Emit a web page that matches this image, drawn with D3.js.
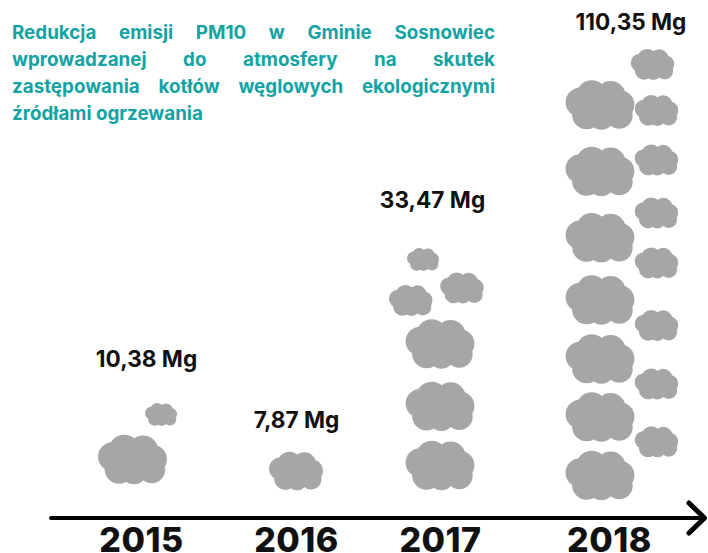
<!DOCTYPE html>
<html lang="pl"><head><meta charset="utf-8">
<script src="https://cdn.jsdelivr.net/npm/d3@7/dist/d3.min.js"></script>
<style>html,body{margin:0;background:#fff}svg{display:block}</style></head>
<body><svg id="c" width="708" height="553"></svg>
<script>
// ---- data ----
const years = ["2015","2016","2017","2018"];
const values = [10.38, 7.87, 33.47, 110.35];
const valueLabels = ["10,38 Mg","7,87 Mg","33,47 Mg","110,35 Mg"];
const cloudTiers = ["big","mid","small","tiny"];
const cloudsByYear = [
  ["big","tiny"],
  ["mid"],
  ["big","big","big","small","small","tiny"],
  ["big","big","big","big","big","big","big","small","small","small","small","small","small","small","small"]
];
const titleLines = [
  "Redukcja emisji PM10 w Gminie Sosnowiec",
  "wprowadzanej do atmosfery na skutek",
  "zastępowania kotłów węglowych ekologicznymi",
  "źródłami ogrzewania"
];

// ---- layout (not data) ----
const W = 708, H = 553;
const axisY = 518;
const svg = d3.select("#c");
const x = d3.scaleOrdinal(years, [141, 296, 440, 609]);
const tierWidth = d3.scaleOrdinal(cloudTiers, [69, 54, 43.6, 32]);
// cloud centres, same order as cloudsByYear
const cloudSpots = [
  [[132.5,459.5],[161,414.5]],
  [[296,471]],
  [[440,465.5],[440,406.3],[440,344],[462,288],[410.7,300.5],[423,259.5]],
  [[600,475.5],[600,417],[600,359],[600,300],[600,237.7],[600,171.5],[600,105],
   [656.5,441.8],[656.5,384],[656.5,325.5],[656.5,263],[656.5,213],[656.5,160],[656.5,110.5],[652.5,64.5]]
];
const labelAnchor = [[146.5,367],[296.5,428],[432.5,207.5],[631,30]];
const lobes = [[-.12,-.129,.228],[.155,-.129,.218],[-.29,-.04,.209],[.29,-.005,.209],
  [-.194,.14,.21],[.02,.163,.194],[.28,.15,.194],[0,0,.27]];

function cloudPath(w){
  const p = d3.path();
  lobes.forEach(([a,b,r])=>{
    p.moveTo(a*w + r*w, b*w);
    p.arc(a*w, b*w, r*w, 0, 2*Math.PI);
  });
  return p.toString();
}

// clouds
const clouds = cloudsByYear.flatMap((list,i)=>list.map((tier,j)=>({tier,pos:cloudSpots[i][j]})));
svg.append("g").selectAll("path").data(clouds).join("path")
  .attr("d",d=>cloudPath(tierWidth(d.tier)))
  .attr("transform",d=>`translate(${d.pos[0]},${d.pos[1]})`)
  .attr("fill","#a6a6a6");

// axis
const axis = d3.axisBottom(x).tickValues(years).tickSize(0).tickPadding(0);
const gAxis = svg.append("g").attr("transform",`translate(0,${axisY})`).call(axis);
gAxis.select(".domain").remove();
gAxis.selectAll("text")
  .attr("y",33.5).attr("dy",0)
  .attr("font-family","Inter").attr("font-weight",800).attr("font-size",34)
  .attr("letter-spacing",0.5).attr("fill","#111");
gAxis.append("path").attr("d",d3.line()([[51,0],[704,0]]))
  .attr("stroke","#000").attr("stroke-width",4).attr("stroke-linecap","round").attr("fill","none");
gAxis.append("path").attr("d",d3.line()([[689,-15],[704.5,0],[689,15]]))
  .attr("stroke","#000").attr("stroke-width",5).attr("stroke-linecap","round").attr("stroke-linejoin","round").attr("fill","none");

// value labels
svg.append("g").selectAll("text").data(valueLabels).join("text")
  .attr("x",(d,i)=>labelAnchor[i][0]).attr("y",(d,i)=>labelAnchor[i][1])
  .attr("text-anchor","middle").attr("font-family","Inter").attr("font-weight",700)
  .attr("font-size",22.6).attr("fill","#111").text(d=>d);

// justified title
const tx = 12, tw = 483, lineY = [39,66,93,120];
const tl = svg.append("g").selectAll("text").data(titleLines).join("text")
  .attr("x",tx).attr("y",(d,i)=>lineY[i])
  .attr("font-family","Inter").attr("font-weight",700).attr("font-size",18.8)
  .attr("fill","#13a3a3").text(d=>d);
tl.each(function(d,i){
  if(i===titleLines.length-1) return;
  const gaps = d.split(" ").length-1;
  const len = this.getComputedTextLength();
  d3.select(this).attr("word-spacing",(tw-len)/gaps);
});
</script></body></html>
